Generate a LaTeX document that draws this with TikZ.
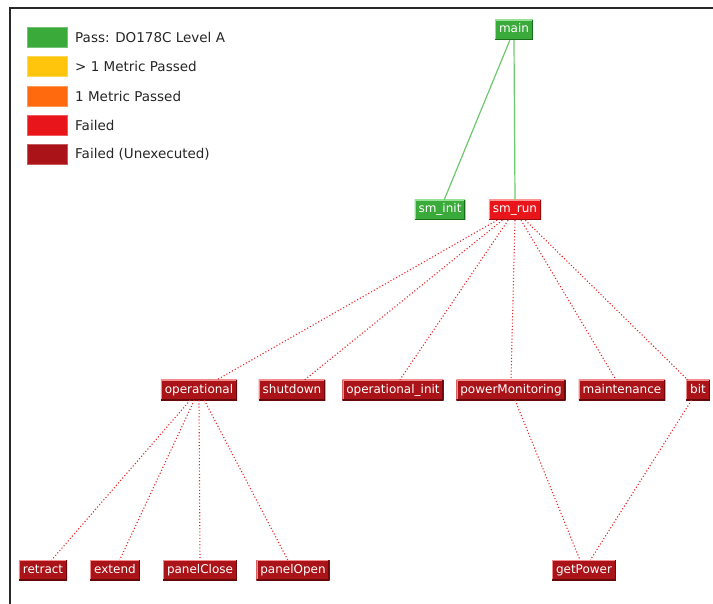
\documentclass[tikz,border=0pt]{standalone}
\usepackage{fontspec}
\setmainfont{DejaVu Sans}
\definecolor{pgreen}{RGB}{58,170,58}
\definecolor{pgreenhi}{RGB}{150,225,150}
\definecolor{pgreenlo}{RGB}{25,110,25}
\definecolor{pyellow}{RGB}{255,196,12}
\definecolor{porange}{RGB}{255,106,14}
\definecolor{pred}{RGB}{232,22,26}
\definecolor{predhi}{RGB}{255,150,150}
\definecolor{predlo}{RGB}{150,10,12}
\definecolor{pdark}{RGB}{170,20,24}
\definecolor{pdarkhi}{RGB}{240,140,140}
\definecolor{pdarklo}{RGB}{105,8,10}
\definecolor{gedge}{RGB}{110,200,110}
\definecolor{redge}{RGB}{232,40,40}
\definecolor{frame}{RGB}{40,40,40}
\begin{document}
\begin{tikzpicture}[x=1pt,y=-1pt,
  fn/.style n args={3}{fill=#1, text=white, minimum height=20pt,
    inner xsep=4pt, inner ysep=0pt, text height=9pt, text depth=3pt,
    font=\fontsize{12}{14}\selectfont,
    path picture={
      \draw[#2, line width=2.4pt] (path picture bounding box.south west)
        -- (path picture bounding box.north west) -- (path picture bounding box.north east);
      \draw[#3, line width=2.4pt] (path picture bounding box.north east)
        -- (path picture bounding box.south east) -- (path picture bounding box.south west);}},
  passnode/.style={fn={pgreen}{pgreenhi}{pgreenlo}},
  failnode/.style={fn={pred}{predhi}{predlo}},
  unexnode/.style={fn={pdark}{pdarkhi}{pdarklo}},
  gline/.style={draw=gedge, line width=1.2pt},
  rline/.style={draw=redge, line width=1.1pt, dash pattern=on 1.1pt off 2.1pt},
  swatch/.style={fill=#1, draw=#1!70!white, line width=0.6pt, minimum width=40pt, minimum height=20pt, inner sep=0pt},
  legtext/.style={anchor=west, inner sep=0pt, text=black!85, font=\fontsize{13.5}{16}\selectfont}
]
\useasboundingbox (0,0) rectangle (713,604);
\fill[white] (0,0) rectangle (713,604);
% outer frame
\draw[frame, line width=2pt] (10,604) -- (10,8) -- (713,8);

% legend
\node[swatch=pgreen]  (k1) at (47,37)  {};
\node[swatch=pyellow] (k2) at (47,66)  {};
\node[swatch=porange] (k3) at (47,96)  {};
\node[swatch=pred]    (k4) at (47,125) {};
\node[swatch=pdark]   (k5) at (47,154) {};
\node[legtext] (t1) at (75,37)  {Pass: DO178C Level A};
\node[legtext] (t2) at (75,66)  {> 1 Metric Passed};
\node[legtext] (t3) at (75,96)  {1 Metric Passed};
\node[legtext] (t4) at (75,125) {Failed};
\node[legtext] (t5) at (75,154) {Failed (Unexecuted)};

% call tree nodes
\node[passnode] (main)   at (514,30)  {main};
\node[passnode] (sminit) at (440,210) {sm\_init};
\node[failnode] (smrun)  at (515,210) {sm\_run};

\node[unexnode] (oper)    at (199,390) {operational};
\node[unexnode] (shut)    at (292,390) {shutdown};
\node[unexnode] (opinit)  at (393,390) {operational\_init};
\node[unexnode] (pmon)    at (511,390) {powerMonitoring};
\node[unexnode] (maint)   at (622,390) {maintenance};
\node[unexnode] (bit)     at (698,390) {bit};

\node[unexnode] (retract) at (43,570)  {retract};
\node[unexnode] (extend)  at (115,570) {extend};
\node[unexnode] (pclose)  at (200,570) {panelClose};
\node[unexnode] (popen)   at (293,570) {panelOpen};
\node[unexnode] (getpow)  at (584,570) {getPower};

% executed calls
\draw[gline] (main) -- (sminit);
\draw[gline] (main.south) -- (smrun.north);

% unexecuted calls
\foreach \c in {oper,shut,opinit,maint,bit}
  \draw[rline] (smrun) -- (\c);
\draw[rline] (smrun.south) -- (pmon.north);
\foreach \c in {retract,extend,popen}
  \draw[rline] (oper) -- (\c);
\draw[rline] (oper.south) -- (pclose.north);
\draw[rline] (pmon) -- (getpow);
\draw[rline] (bit) -- (getpow);
\end{tikzpicture}
\end{document}
